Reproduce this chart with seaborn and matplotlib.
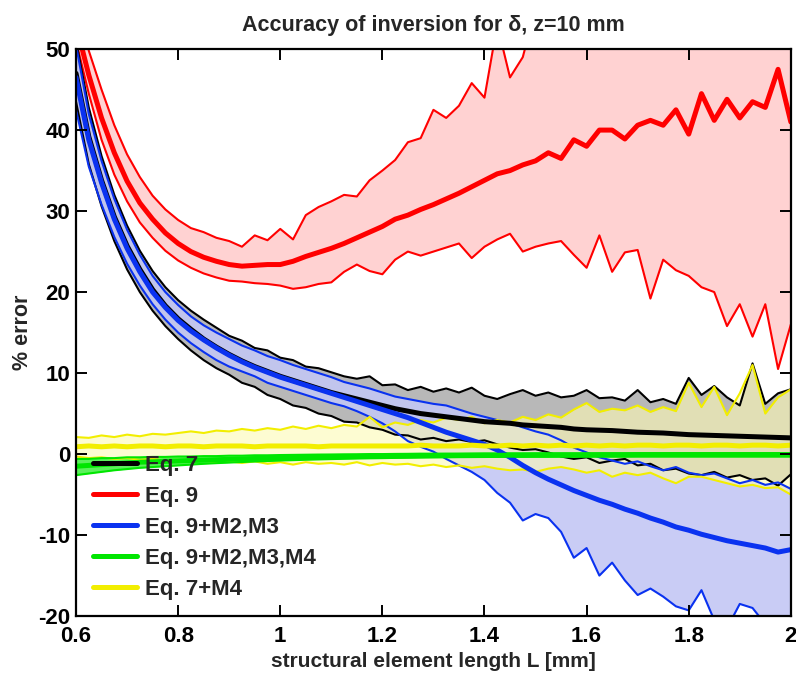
import numpy as np
import seaborn as sns
import matplotlib
matplotlib.use('Agg')
import matplotlib.pyplot as plt
from matplotlib.ticker import FuncFormatter

# sampling positions of the curves (structural element length L, mm)
L = np.linspace(0.6, 2.0, 57)

# Eq. 9 (red)
eq9_mean = [53.0, 46.8, 41.5, 37.2, 33.7, 31.0, 29.0, 27.3, 26.0, 25.0,
            24.3, 23.8, 23.4, 23.2, 23.3, 23.4, 23.4, 23.8, 24.4, 24.9,
            25.4, 26.0, 26.7, 27.4, 28.1, 29.0, 29.5, 30.2, 30.8, 31.5,
            32.2, 33.0, 33.8, 34.6, 35.0, 35.7, 36.2, 37.2, 36.5, 38.8,
            38.0, 40.0, 40.0, 38.9, 40.6, 41.2, 40.6, 42.5, 39.5, 44.5,
            41.2, 43.8, 41.5, 43.5, 42.8, 47.5, 41.0]
eq9_hi = [58.0, 49.8, 45.0, 40.6, 37.0, 34.2, 31.9, 30.2, 28.9, 27.9,
          27.4, 26.7, 26.3, 25.6, 27.0, 26.4, 27.8, 26.5, 29.5, 30.5,
          31.2, 32.0, 31.8, 33.8, 35.0, 36.3, 38.5, 39.0, 42.5, 41.5,
          43.0, 45.8, 44.0, 53.0, 46.5, 49.0, 55.0, 55.0, 55.0, 55.0,
          55.0, 55.0, 55.0, 55.0, 55.0, 55.0, 55.0, 55.0, 55.0, 55.0,
          55.0, 55.0, 55.0, 55.0, 55.0, 55.0, 55.0]
eq9_lo = [51.0, 44.5, 38.8, 34.5, 31.2, 28.6, 26.7, 25.1, 23.9, 23.0,
          22.3, 21.8, 21.4, 21.3, 21.1, 21.0, 20.8, 20.4, 20.6, 21.0,
          21.2, 22.5, 23.4, 22.6, 22.2, 24.0, 25.0, 24.5, 25.0, 25.5,
          26.0, 24.2, 25.6, 26.5, 27.2, 25.0, 25.6, 26.0, 26.3, 24.6,
          23.0, 27.0, 22.5, 24.9, 25.2, 19.2, 24.0, 22.7, 22.0, 20.6,
          20.0, 15.8, 18.5, 14.5, 18.5, 10.5, 16.0]

# Eq. 7 (black)
eq7_mean = [47.0, 39.2, 33.8, 29.3, 25.7, 22.8, 20.3, 18.3, 16.7, 15.4,
            14.2, 13.2, 12.3, 11.5, 10.8, 10.2, 9.6, 9.1, 8.6, 8.1,
            7.6, 7.2, 6.8, 6.4, 6.0, 5.6, 5.3, 5.0, 4.8, 4.6,
            4.4, 4.2, 4.0, 3.9, 3.8, 3.6, 3.5, 3.4, 3.3, 3.1,
            3.0, 2.95, 2.9, 2.8, 2.7, 2.65, 2.6, 2.5, 2.4, 2.35,
            2.3, 2.25, 2.2, 2.15, 2.1, 2.05, 2.0]
eq7_hi = [51.0, 42.8, 36.8, 32.0, 28.2, 25.1, 22.6, 20.6, 19.0, 17.7,
          16.6, 15.6, 14.6, 14.0, 13.1, 12.8, 11.9, 11.6, 10.8, 10.6,
          10.1, 9.6, 9.3, 9.6, 8.5, 8.6, 7.9, 8.3, 7.7, 8.1,
          7.6, 8.2, 7.2, 6.8, 7.4, 7.9, 7.2, 7.6, 7.0, 7.2,
          7.9, 6.9, 7.0, 6.6, 7.9, 6.4, 6.8, 6.2, 9.4, 7.3,
          8.4, 7.0, 6.0, 11.2, 6.2, 7.5, 8.0]
eq7_lo = [43.5, 35.8, 30.6, 26.3, 22.8, 20.0, 17.7, 15.8, 14.2, 12.8,
          11.6, 10.6, 9.8, 8.8, 8.3, 7.3, 6.8, 6.0, 5.7, 5.0,
          4.7, 4.0, 3.9, 3.3, 3.0, 2.4, 2.3, 1.8, 2.0, 1.6,
          1.8, 1.5, 1.7, 1.2, 0.8, 0.5, 0.6, 0.2, -0.3, -0.6,
          -0.4, -1.1, -0.8, -0.6, -1.4, -1.2, -2.0, -1.8, -2.4, -2.6,
          -2.2, -2.9, -2.6, -3.2, -3.0, -3.9, -2.5]

# Eq. 9+M2,M3 (blue)
m23_mean = [46.5, 38.8, 33.5, 29.0, 25.4, 22.5, 20.0, 18.1, 16.5, 15.2,
            14.1, 13.1, 12.2, 11.4, 10.7, 10.1, 9.5, 9.0, 8.5, 8.0,
            7.5, 7.0, 6.5, 6.0, 5.5, 5.0, 4.5, 3.9, 3.3, 2.7,
            2.2, 1.7, 1.2, 0.5, -0.4, -1.4, -2.3, -3.1, -3.8, -4.5,
            -5.1, -5.7, -6.2, -6.8, -7.3, -7.9, -8.4, -9.0, -9.4, -9.9,
            -10.3, -10.7, -11.0, -11.3, -11.6, -12.1, -11.8]
m23_hi = [50.5, 42.0, 36.2, 31.5, 27.7, 24.6, 22.0, 20.0, 18.4, 17.0,
          15.9, 15.0, 14.2, 13.4, 12.8, 12.1, 11.6, 11.0, 10.5, 10.0,
          9.5, 8.9, 8.5, 8.1, 7.6, 7.1, 6.8, 6.5, 6.2, 6.0,
          5.5, 5.0, 4.6, 4.2, 3.8, 3.3, 2.8, 2.4, 1.7, 0.8,
          0.2, -0.4, -0.8, -1.2, -0.9, -1.5, -2.0, -1.6, -2.3, -2.6,
          -2.4, -3.0, -3.6, -3.2, -3.8, -3.5, -4.3]
m23_lo = [42.5, 35.5, 30.8, 26.8, 23.5, 20.8, 18.5, 16.6, 15.0, 13.7,
          12.6, 11.6, 10.8, 10.2, 9.6, 8.8, 8.3, 7.8, 7.3, 6.8,
          6.3, 5.9, 5.3, 4.6, 3.8, 2.8, 1.6, 0.9, 0.3, -0.6,
          -1.4, -2.2, -3.2, -4.8, -6.0, -8.2, -7.4, -7.9, -9.6, -12.8,
          -11.6, -15.0, -13.4, -15.6, -17.4, -16.6, -17.6, -18.8, -19.3, -16.8,
          -20.5, -21.5, -18.5, -19.0, -21.0, -22.0, -21.5]

# Eq. 9+M2,M3,M4 (green)
m234_mean = [-1.5, -1.4, -1.3, -1.2, -1.1, -1.0, -0.95, -0.9, -0.85, -0.8,
             -0.75, -0.7, -0.65, -0.6, -0.55, -0.5, -0.47, -0.44, -0.41, -0.38,
             -0.35, -0.32, -0.3, -0.28, -0.26, -0.24, -0.22, -0.2, -0.19, -0.18,
             -0.17, -0.16, -0.15, -0.15, -0.14, -0.14, -0.13, -0.13, -0.12, -0.12,
             -0.12, -0.11, -0.11, -0.11, -0.1, -0.1, -0.1, -0.1, -0.1, -0.1,
             -0.1, -0.1, -0.1, -0.1, -0.1, -0.1, -0.1]
m234_hi = [-0.6, -0.6, -0.5, -0.5, -0.4, -0.4, -0.35, -0.35, -0.3, -0.3,
           -0.25, -0.25, -0.2, -0.2, -0.15, -0.15, -0.12, -0.1, -0.08, -0.06,
           -0.05, -0.03, -0.02, 0.0, 0.0, 0.02, 0.03, 0.05, 0.05, 0.06,
           0.06, 0.07, 0.08, 0.08, 0.09, 0.09, 0.1, 0.1, 0.1, 0.1,
           0.1, 0.11, 0.11, 0.11, 0.12, 0.12, 0.12, 0.12, 0.12, 0.12,
           0.12, 0.12, 0.12, 0.12, 0.12, 0.12, 0.12]
m234_lo = [-2.6, -2.4, -2.2, -2.0, -1.85, -1.7, -1.6, -1.5, -1.4, -1.3,
           -1.2, -1.12, -1.05, -0.98, -0.92, -0.86, -0.8, -0.75, -0.7, -0.66,
           -0.62, -0.58, -0.55, -0.52, -0.5, -0.47, -0.45, -0.43, -0.41, -0.4,
           -0.38, -0.37, -0.36, -0.35, -0.34, -0.34, -0.33, -0.33, -0.32, -0.32,
           -0.32, -0.31, -0.31, -0.31, -0.3, -0.3, -0.3, -0.3, -0.3, -0.3,
           -0.3, -0.3, -0.3, -0.3, -0.3, -0.3, -0.3]

# Eq. 7+M4 (yellow)
m4_mean = [0.9, 1.0, 0.9, 1.0, 0.9, 1.0, 1.0, 0.9, 1.0, 1.0,
           0.9, 1.0, 1.0, 1.0, 0.9, 1.0, 1.0, 1.0, 1.0, 0.9,
           1.0, 1.0, 1.0, 1.0, 1.0, 1.0, 1.0, 1.1, 1.0, 1.0,
           1.0, 1.1, 1.0, 1.0, 1.1, 1.0, 1.1, 1.0, 1.1, 1.0,
           1.1, 1.0, 1.1, 1.0, 1.1, 1.1, 1.0, 1.1, 1.1, 1.0,
           1.1, 1.1, 1.0, 1.1, 1.1, 1.0, 1.1]
m4_hi = [2.1, 2.0, 2.3, 2.1, 2.4, 2.2, 2.5, 2.4, 2.6, 2.8,
         2.6, 2.9, 2.8, 3.1, 2.9, 3.2, 3.0, 3.4, 3.1, 3.5,
         3.2, 3.6, 3.4, 4.6, 3.3, 3.9, 3.6, 4.2, 3.9, 4.5,
         4.2, 4.6, 3.8, 4.2, 3.9, 4.6, 4.2, 4.9, 4.5, 5.5,
         6.3, 5.2, 5.6, 5.4, 6.0, 5.2, 5.8, 5.3, 8.8, 5.8,
         8.3, 4.8, 7.5, 11.0, 5.0, 7.0, 8.0]
m4_lo = [-0.3, -0.5, -0.4, -0.6, -0.5, -0.7, -0.6, -0.8, -0.7, -0.9,
         -0.8, -1.0, -0.9, -1.1, -0.9, -1.2, -1.0, -1.3, -1.0, -1.2,
         -1.1, -1.3, -1.0, -1.4, -1.1, -1.3, -1.2, -1.5, -1.3, -1.6,
         -1.4, -1.7, -1.5, -1.8, -2.0, -1.9, -2.2, -1.8, -1.6, -1.9,
         -2.3, -2.0, -2.8, -2.3, -2.6, -2.3, -3.0, -3.6, -2.8, -2.8,
         -3.2, -3.6, -4.0, -3.8, -4.2, -4.1, -5.0]

labels = ['Eq. 7', 'Eq. 9', 'Eq. 9+M2,M3', 'Eq. 9+M2,M3,M4', 'Eq. 7+M4']

sns.set_style('ticks')
plt.rcParams['font.family'] = ['Liberation Sans', 'DejaVu Sans']
plt.rcParams['font.weight'] = 'bold'
plt.rcParams['axes.labelweight'] = 'bold'
plt.rcParams['axes.titleweight'] = 'bold'
plt.rcParams['axes.unicode_minus'] = False

fig = plt.figure(figsize=(7.96, 6.77), dpi=100)
ax = fig.add_axes([0.0955, 0.090, 0.898, 0.8375])

# (label, mean, low, high, line colour, fill colour, fill alpha) in drawing order
bands = [
    (labels[1], eq9_mean, eq9_lo, eq9_hi, '#ff0000', '#ffd2d2', 1.0),
    (labels[0], eq7_mean, eq7_lo, eq7_hi, '#000000', '#b8b8b8', 1.0),
    (labels[2], m23_mean, m23_lo, m23_hi, '#0a32f0', '#c3c7f4', 0.9),
    (labels[4], m4_mean, m4_lo, m4_hi, '#f2ee00', '#fdfab4', 0.6),
    (labels[3], m234_mean, m234_lo, m234_hi, '#00e600', '#33ee33', 0.8),
]

for lab, mean, lo, hi, lc, fc, fa in bands:
    ax.fill_between(L, lo, hi, color=fc, alpha=fa, lw=0)

for lab, mean, lo, hi, lc, fc, fa in bands:
    sns.lineplot(x=L, y=lo, color=lc, lw=1.5, ax=ax, estimator=None, legend=False)
    sns.lineplot(x=L, y=hi, color=lc, lw=1.5, ax=ax, estimator=None, legend=False)

handles = {}
for lab, mean, lo, hi, lc, fc, fa in bands:
    sns.lineplot(x=L, y=mean, color=lc, lw=3.6, ax=ax, estimator=None, legend=False)
    handles[lab] = ax.lines[-1]

ax.set_xlim(0.6, 2.0)
ax.set_ylim(-20, 50)
ax.set_xticks([0.6, 0.8, 1.0, 1.2, 1.4, 1.6, 1.8, 2.0])
ax.set_yticks([-20, -10, 0, 10, 20, 30, 40, 50])
ax.xaxis.set_major_formatter(FuncFormatter(lambda v, p: f'{v:g}'))
ax.set_axisbelow(False)
ax.tick_params(direction='in', length=8, width=1.4, colors='black',
               top=True, right=True, labelsize=16)
ax.tick_params(axis='x', pad=7)
ax.tick_params(axis='y', pad=4)
for s in ax.spines.values():
    s.set_linewidth(1.6)
    s.set_color('black')
    s.set_zorder(5)

ax.set_title('Accuracy of inversion for δ, z=10 mm', fontsize=15.5, pad=13)
ax.set_xlabel('structural element length L [mm]', fontsize=15, labelpad=4)
ax.set_ylabel('% error', fontsize=15.5, labelpad=4)

ax.legend([handles[l] for l in labels], labels, loc='upper left',
          bbox_to_anchor=(0.011, 0.30), frameon=False, fontsize=16,
          handlelength=2.0, labelspacing=0.45, handletextpad=0.35,
          borderaxespad=0)

fig.savefig('out.png', dpi=100)
